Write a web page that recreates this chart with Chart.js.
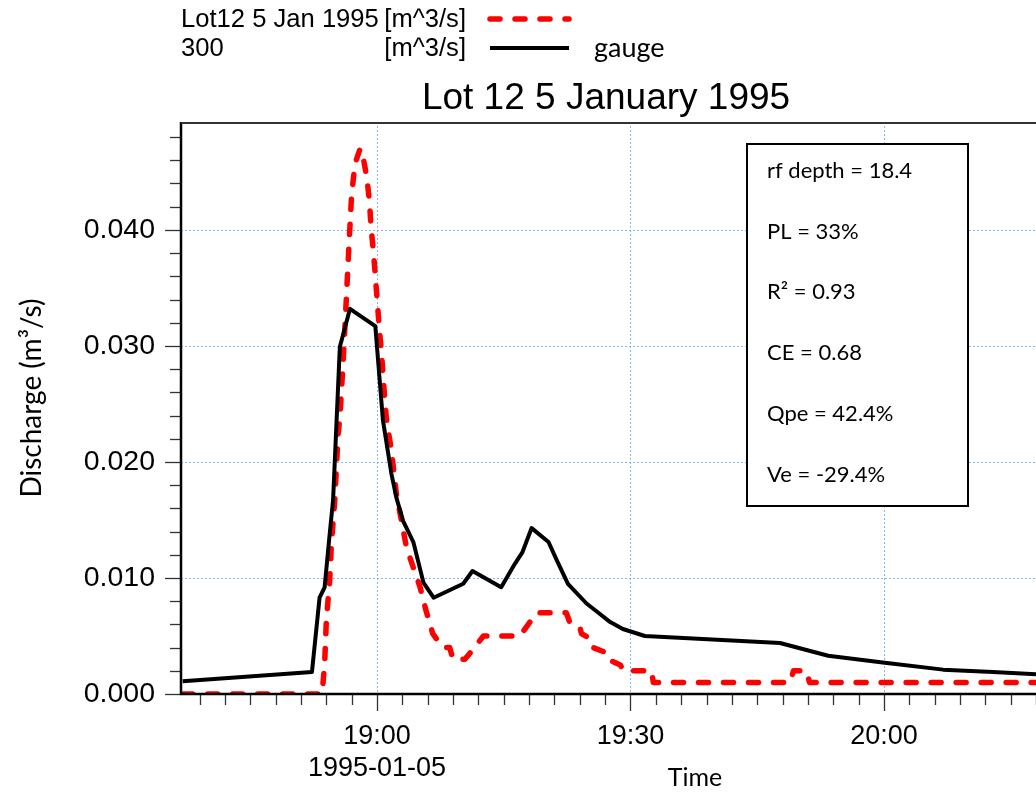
<!DOCTYPE html>
<html>
<head>
<meta charset="utf-8">
<script src="https://cdn.jsdelivr.net/npm/chart.js@4.4.1/dist/chart.umd.min.js"></script>
<style>
  html, body { margin: 0; padding: 0; background: #ffffff; }
  #wrap { width: 1036px; height: 794px; }
</style>
</head>
<body>
<div id="wrap"><canvas id="c" width="1036" height="794"></canvas></div>
<script>
// Modelled runoff (Lot12, 5 Jan 1995), m^3/s
const modelTimes = [
  '18:37:00','18:53:30','18:53:48','18:54:00','18:54:24','18:54:36','18:55:00','18:55:24',
  '18:55:36','18:56:00','18:56:24','18:56:42','18:57:00','18:57:24','18:58:00','18:58:18',
  '18:58:48','18:59:06','18:59:18','18:59:36','18:59:54','19:00:12','19:00:36','19:00:54',
  '19:01:06','19:01:42','19:02:18','19:02:54','19:03:30','19:04:18','19:05:06','19:05:48',
  '19:06:36','19:07:48','19:08:36','19:09:00','19:10:24','19:11:12','19:12:36','19:16:54',
  '19:17:54','19:18:54','19:22:24','19:22:48','19:24:00','19:24:12','19:25:24','19:25:36',
  '19:27:00','19:27:18','19:28:48','19:29:12','19:32:30','19:32:42','19:48:54','19:49:18',
  '19:50:48','19:51:12','20:18:00'
];
const modelFlow = [
  0.0000, 0.0000, 0.0026, 0.0063, 0.0098, 0.0129, 0.0167, 0.0224,
  0.0238, 0.0287, 0.0345, 0.0390, 0.0431, 0.0457, 0.0470, 0.0465,
  0.0445, 0.0425, 0.0402, 0.0379, 0.0351, 0.0322, 0.0287, 0.0256,
  0.0238, 0.0210, 0.0172, 0.0149, 0.0126, 0.0109, 0.0092, 0.0072,
  0.0052, 0.0040, 0.0040, 0.0030, 0.0030, 0.0037, 0.0050, 0.0050,
  0.0060, 0.0070, 0.0070, 0.0062, 0.0058, 0.0052, 0.0047, 0.0040,
  0.0036, 0.0030, 0.0025, 0.0020, 0.0020, 0.0010, 0.0010, 0.0020,
  0.0020, 0.0010, 0.0010
];

// Gauged flow (station 300), m^3/s
const gaugeTimes = [
  '18:37:00','18:52:18','18:53:12','18:53:48','18:54:24','18:54:48','18:55:36','18:56:48',
  '18:59:48','19:00:42','19:01:42','19:02:18','19:03:06','19:04:18','19:05:30','19:06:42',
  '19:10:12','19:11:18','19:14:42','19:16:18','19:17:12','19:18:18','19:20:18','19:21:18',
  '19:22:36','19:24:48','19:26:12','19:27:36','19:29:06','19:31:42','19:47:42','19:53:24',
  '20:00:06','20:07:00','20:12:54','20:18:00'
];
const gaugeFlow = [
  0.0011, 0.0019, 0.0083, 0.0092, 0.0138, 0.0167, 0.0299, 0.0332,
  0.0317, 0.0236, 0.0190, 0.0169, 0.0149, 0.0131, 0.0096, 0.0083,
  0.0095, 0.0106, 0.0092, 0.0112, 0.0122, 0.0143, 0.0131, 0.0115,
  0.0095, 0.0078, 0.0070, 0.0062, 0.0056, 0.0050, 0.0044, 0.0033,
  0.0027, 0.0021, 0.0019, 0.0017
];

// Axis ticks
const xMajorTicks = ['19:00', '19:30', '20:00'];
const xDateLabel = '1995-01-05';
const yMajorTicks = [0.000, 0.010, 0.020, 0.030, 0.040];

// Texts
const chartTitle = 'Lot 12 5 January 1995';
const seriesNames = ['Lot12 5 Jan 1995', '300'];
const seriesUnits = ['[m^3/s]', '[m^3/s]'];
const seriesTags = ['', 'gauge'];
const yTitle = 'Discharge (m³/s)';
const xTitle = 'Time';
const statsLines = ['rf depth = 18.4', 'PL = 33%', 'R² = 0.93', 'CE = 0.68', 'Qpe = 42.4%', 'Ve = -29.4%'];

const toMin = s => { const p = s.split(':').map(Number); return p[0] * 60 + p[1] + (p[2] || 0) / 60; };
const fmtTime = m => { const h = Math.floor(m / 60), mm = Math.round(m - h * 60); return h + ':' + String(mm).padStart(2, '0'); };

const ARIAL = "'Liberation Sans', Arial, sans-serif";
const CAL = "Lato, 'Open Sans', sans-serif";

const xMin = toMin('18:36:48'), xMax = toMin('20:18:00');
const yMin = 0, yMax = 0.0493;

const framePlugin = {
  id: 'frame',
  beforeDatasetsDraw(chart) {
    const { ctx, chartArea: a, scales: { x, y } } = chart;
    ctx.save();
    ctx.strokeStyle = '#7db9f0';
    ctx.lineWidth = 1;
    ctx.setLineDash([2, 2]);
    xMajorTicks.forEach(t => {
      const px = Math.round(x.getPixelForValue(toMin(t))) + 0.5;
      ctx.beginPath(); ctx.moveTo(px, a.top); ctx.lineTo(px, a.bottom); ctx.stroke();
    });
    yMajorTicks.slice(1).forEach(v => {
      const py = Math.round(y.getPixelForValue(v)) + 0.5;
      ctx.beginPath(); ctx.moveTo(a.left, py); ctx.lineTo(a.right, py); ctx.stroke();
    });
    ctx.restore();
  },
  afterDatasetsDraw(chart) {
    const { ctx, chartArea: a, scales: { x, y } } = chart;
    ctx.save();
    ctx.setLineDash([]);

    // minor + major ticks
    ctx.strokeStyle = '#333';
    ctx.lineWidth = 1.3;
    for (let m = Math.ceil(xMin / 3) * 3; m <= xMax; m += 3) {
      const px = Math.round(x.getPixelForValue(m)) + 0.5;
      const major = m % 30 === 0;
      ctx.beginPath(); ctx.moveTo(px, a.bottom); ctx.lineTo(px, a.bottom + (major ? 17 : 11)); ctx.stroke();
    }
    for (let i = 0; i * 0.002 <= yMax; i++) {
      const v = i * 0.002;
      const py = Math.round(y.getPixelForValue(v)) + 0.5;
      const major = i % 5 === 0;
      ctx.beginPath(); ctx.moveTo(a.left, py); ctx.lineTo(a.left - (major ? 16 : 11), py); ctx.stroke();
    }

    // frame lines
    ctx.strokeStyle = '#000';
    ctx.lineWidth = 2.5;
    ctx.beginPath(); ctx.moveTo(a.left, a.top); ctx.lineTo(a.left, a.bottom); ctx.lineTo(a.right, a.bottom); ctx.stroke();
    ctx.strokeStyle = '#333';
    ctx.lineWidth = 2;
    ctx.beginPath(); ctx.moveTo(a.left, a.top + 1); ctx.lineTo(a.right, a.top + 1); ctx.stroke();

    // statistics box
    const bx = 747, by = 144, bw = 221, bh = 362;
    ctx.fillStyle = '#fff';
    ctx.fillRect(bx, by, bw, bh);
    ctx.strokeStyle = '#000';
    ctx.lineWidth = 2;
    ctx.strokeRect(bx, by, bw, bh);
    ctx.fillStyle = '#000';
    ctx.font = '22px ' + CAL;
    ctx.textBaseline = 'middle';
    ctx.textAlign = 'left';
    statsLines.forEach((s, i) => ctx.fillText(s, 767, 171 + i * 60.7));

    // title
    ctx.font = '37px ' + ARIAL;
    ctx.textAlign = 'center';
    ctx.textBaseline = 'alphabetic';
    ctx.fillText(chartTitle, 606, 109);

    // legend
    const ds = chart.data.datasets;
    const legFont = '25.6px ' + ARIAL;
    ctx.font = legFont;
    const rows = [19, 48];
    ds.forEach((d, i) => {
      ctx.textAlign = 'left';
      ctx.textBaseline = 'middle';
      ctx.fillStyle = '#000';
      ctx.fillText(seriesNames[i], 181, rows[i] + 1);
      ctx.textAlign = 'right';
      ctx.fillText(seriesUnits[i], 466, rows[i] + 1);
      ctx.strokeStyle = d.borderColor;
      ctx.lineWidth = d.borderWidth;
      ctx.lineCap = d.borderCapStyle || 'butt';
      ctx.setLineDash(d.borderDash || []);
      ctx.beginPath(); ctx.moveTo(490, rows[i]); ctx.lineTo(569, rows[i]); ctx.stroke();
      ctx.setLineDash([]);
      if (seriesTags[i]) {
        ctx.textAlign = 'left';
        ctx.font = '27px ' + CAL;
        ctx.fillText(seriesTags[i], 594, rows[i]);
        ctx.font = legFont;
      }
    });

    // axis titles
    ctx.fillStyle = '#000';
    ctx.font = '25px ' + CAL;
    ctx.textAlign = 'center';
    ctx.textBaseline = 'middle';
    ctx.fillText(xTitle, 695, 778);
    ctx.font = '28px ' + CAL;
    ctx.translate(32, 398);
    ctx.rotate(-Math.PI / 2);
    ctx.fillText(yTitle, 0, 0);
    ctx.restore();
  }
};

new Chart(document.getElementById('c'), {
  type: 'line',
  data: {
    datasets: [
      {
        label: seriesNames[0],
        data: modelTimes.map((t, i) => ({ x: toMin(t), y: modelFlow[i] })),
        borderColor: '#ff0000',
        borderWidth: 5.5,
        borderDash: [10, 15],
        borderCapStyle: 'round',
        borderJoinStyle: 'round',
        pointRadius: 0,
        tension: 0,
        order: 1
      },
      {
        label: seriesNames[1],
        data: gaugeTimes.map((t, i) => ({ x: toMin(t), y: gaugeFlow[i] })),
        borderColor: '#000000',
        borderWidth: 4,
        borderJoinStyle: 'round',
        pointRadius: 0,
        tension: 0,
        order: 0
      }
    ]
  },
  options: {
    responsive: false,
    animation: false,
    devicePixelRatio: 1,
    layout: { padding: { left: 0, top: 122, right: 0, bottom: 0 } },
    plugins: { legend: { display: false }, title: { display: false }, tooltip: { enabled: false } },
    scales: {
      x: {
        type: 'linear',
        min: xMin,
        max: xMax,
        grid: { display: false, drawTicks: false },
        border: { display: false },
        afterBuildTicks: s => { s.ticks = xMajorTicks.map(t => ({ value: toMin(t) })); },
        afterFit: s => { s.height = 100; },
        ticks: {
          autoSkip: false,
          maxRotation: 0,
          padding: 26,
          color: '#000',
          font: { family: ARIAL, size: 27 },
          callback: v => (fmtTime(v) === xMajorTicks[0] ? [fmtTime(v), xDateLabel] : fmtTime(v))
        }
      },
      y: {
        type: 'linear',
        min: yMin,
        max: yMax,
        grid: { display: false, drawTicks: false },
        border: { display: false },
        afterBuildTicks: s => { s.ticks = yMajorTicks.map(v => ({ value: v })); },
        afterFit: s => { s.width = 181; },
        ticks: {
          padding: 26,
          color: '#000',
          font: { family: ARIAL, size: 28.5 },
          callback: v => v.toFixed(3)
        }
      }
    }
  },
  plugins: [framePlugin]
});
</script>
</body>
</html>
